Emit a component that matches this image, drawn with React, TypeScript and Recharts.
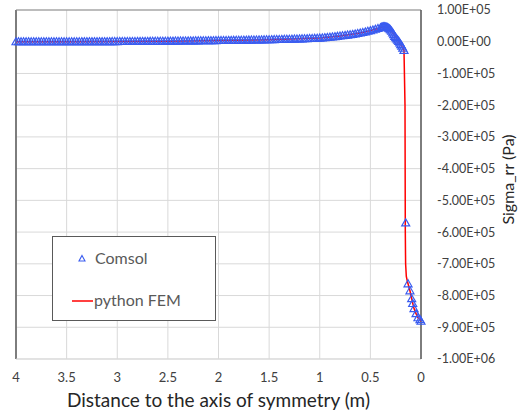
import { ScatterChart, Scatter, XAxis, YAxis, CartesianGrid, ReferenceLine, Legend, Label } from 'recharts';

const font = 'Lato, "Open Sans", sans-serif';

// Comsol results (distance in m, sigma_rr in Pa)
const comsolX = [
  4, 3.975, 3.95, 3.925, 3.9, 3.875, 3.85, 3.825,
  3.8, 3.775, 3.75, 3.725, 3.7, 3.675, 3.65, 3.625,
  3.6, 3.575, 3.55, 3.525, 3.5, 3.475, 3.45, 3.425,
  3.4, 3.375, 3.35, 3.325, 3.3, 3.275, 3.25, 3.225,
  3.2, 3.175, 3.15, 3.125, 3.1, 3.075, 3.05, 3.025,
  3, 2.975, 2.95, 2.925, 2.9, 2.875, 2.85, 2.825,
  2.8, 2.775, 2.75, 2.725, 2.7, 2.675, 2.65, 2.625,
  2.6, 2.575, 2.55, 2.525, 2.5, 2.475, 2.45, 2.425,
  2.4, 2.375, 2.35, 2.325, 2.3, 2.275, 2.25, 2.225,
  2.2, 2.175, 2.15, 2.125, 2.1, 2.075, 2.05, 2.025,
  2, 1.975, 1.95, 1.925, 1.9, 1.875, 1.85, 1.825,
  1.8, 1.775, 1.75, 1.725, 1.7, 1.675, 1.65, 1.625,
  1.6, 1.575, 1.55, 1.525, 1.5, 1.475, 1.45, 1.425,
  1.4, 1.375, 1.35, 1.325, 1.3, 1.275, 1.25, 1.225,
  1.2, 1.175, 1.15, 1.125, 1.1, 1.075, 1.05, 1.025,
  1, 0.975, 0.95, 0.925, 0.9, 0.875, 0.85, 0.825,
  0.8, 0.775, 0.75, 0.725, 0.7, 0.675, 0.65, 0.625,
  0.6, 0.575, 0.55, 0.525, 0.5, 0.475, 0.45, 0.425,
  0.4, 0.39, 0.38, 0.37, 0.36, 0.35, 0.34, 0.33, 0.32, 0.31, 0.3, 0.29,
  0.28, 0.27, 0.26, 0.25, 0.24, 0.23, 0.22, 0.21, 0.2, 0.19, 0.18, 0.168,
  0.151, 0.128, 0.109, 0.092, 0.082, 0.069, 0.049, 0.03, 0.01, 0,
];
const comsolY = [
  0, 0, 0, 0, 0, 0, 0, 0,
  0, 0, 0, 0, 0, 0, 0, 0,
  0, 0, 0, 0, 0, 0, 50, 100,
  100, 150, 200, 200, 200, 250, 300, 300,
  300, 350, 400, 400, 400, 450, 500, 550,
  600, 650, 700, 750, 800, 850, 900, 950,
  1000, 1050, 1100, 1150, 1200, 1250, 1300, 1400,
  1500, 1550, 1600, 1700, 1800, 1900, 2000, 2100,
  2200, 2300, 2400, 2500, 2600, 2700, 2800, 2900,
  3000, 3100, 3200, 3300, 3400, 3500, 3600, 3700,
  3800, 3900, 4000, 4100, 4200, 4300, 4400, 4550,
  4700, 4800, 4900, 5050, 5200, 5350, 5500, 5650,
  5800, 5950, 6100, 6250, 6400, 6600, 6800, 7000,
  7200, 7400, 7600, 7800, 8000, 8250, 8500, 8750,
  9000, 9250, 9500, 9800, 10100, 10400, 10700, 11100,
  11500, 12200, 13000, 13700, 14500, 15200, 16000, 17000,
  18000, 19000, 20000, 21000, 22000, 23200, 24500, 26000,
  27500, 29200, 31000, 33000, 35000, 37200, 39500, 41800,
  44000, 45500, 46500, 47000, 47000, 46800, 46000, 44800, 43000, 40500, 37000, 33000,
  28000, 22500, 17000, 13000, 9000, 5000, 1000, -4000, -9000, -14000, -20000, -27000,
  -571000, -763000, -785000, -810000, -825000, -841000, -857000, -870000, -876000, -881000,
];

// python FEM results
const femX = [
  4, 3.5, 3, 2.5, 2, 1.5, 1, 0.8, 0.6, 0.5, 0.45, 0.4, 0.36, 0.32, 0.28, 0.24, 0.2, 0.168,
  0.158, 0.155, 0.152, 0.145, 0.135, 0.128, 0.109, 0.092, 0.069, 0.049, 0.03, 0.01, 0,
];
const femY = [
  0, 0, 600, 1800, 3800, 6400, 11500, 18000, 27500, 35000, 39500, 44000, 47000, 43000, 28000, 9000, -9000, -27000,
  -200000, -600000, -700000, -740000, -755000, -763000, -785000, -810000, -841000, -857000, -870000, -876000, -881000,
];

const xTicks = [0, 0.5, 1, 1.5, 2, 2.5, 3, 3.5, 4];
const yTicks = [100000, 0, -100000, -200000, -300000, -400000, -500000, -600000, -700000, -800000, -900000, -1000000];

const comsolData = comsolX.map((x, i) => ({ x, y: comsolY[i] }));
const femData = femX.map((x, i) => ({ x, y: femY[i] }));

const fmtSci = (v: number) => {
  const [m, e] = v.toExponential(2).split('e');
  const sign = e[0] === '-' ? '-' : '+';
  const d = e.replace(/[+-]/, '').padStart(2, '0');
  return `${m}E${sign}${d}`;
};

const Triangle = (props: any) => {
  const { cx, cy } = props;
  if (cx == null || cy == null) return <g />;
  return (
    <path
      d={`M${cx},${cy - 4}L${cx + 4},${cy + 3}L${cx - 4},${cy + 3}Z`}
      fill="none"
      stroke="#3a5cf0"
      strokeWidth={1.2}
    />
  );
};

const yTitle = ({ viewBox }: any) => {
  const cx = viewBox.x + viewBox.width - 11;
  const cy = viewBox.y + viewBox.height / 2 - 5;
  return (
    <text
      x={cx}
      y={cy}
      transform={`rotate(-90, ${cx}, ${cy})`}
      textAnchor="middle"
      dominantBaseline="central"
      fill="#262626"
      fontSize={16}
      fontFamily={font}
    >
      Sigma_rr (Pa)
    </text>
  );
};

const legendContent = () => (
  <div
    style={{
      width: 162,
      height: 83,
      border: '1px solid #595959',
      background: '#fff',
      fontFamily: font,
      fontSize: 16,
      color: '#595959',
      position: 'relative',
    }}
  >
    <svg width={20} height={10} style={{ position: 'absolute', left: 19, top: 17 }}>
      <path d="M10,1.5L13,7L7,7Z" fill="none" stroke="#3a5cf0" strokeWidth={1.1} />
    </svg>
    <span style={{ position: 'absolute', left: 42, top: 11 }}>Comsol</span>
    <svg width={22} height={4} style={{ position: 'absolute', left: 19, top: 62 }}>
      <line x1={0} y1={2} x2={21} y2={2} stroke="#ff0000" strokeWidth={1.5} />
    </svg>
    <span style={{ position: 'absolute', left: 41, top: 53 }}>python FEM</span>
  </div>
);

const App = () => {
  return (
    <div style={{ position: 'absolute', left: 0, top: 0 }}>
      <ScatterChart width={518} height={415} margin={{ top: 10, right: 0, bottom: 0, left: 16 }}>
        <CartesianGrid stroke="#d9d9d9" />
        <XAxis
          dataKey="x"
          type="number"
          domain={[0, 4]}
          ticks={xTicks}
          reversed
          height={56}
          tickSize={0}
          tickMargin={14}
          tickLine={false}
          axisLine={{ stroke: '#d9d9d9' }}
          tick={{ fill: '#404040', fontSize: 13, fontFamily: font }}
        >
          <Label
            value="Distance to the axis of symmetry (m)"
            position="insideBottom"
            offset={8}
            style={{ fill: '#262626', fontSize: 19, fontFamily: font }}
          />
        </XAxis>
        <YAxis
          dataKey="y"
          type="number"
          orientation="right"
          domain={[-1000000, 100000]}
          ticks={yTicks}
          width={97}
          tickSize={0}
          tickMargin={16}
          tickLine={false}
          axisLine={{ stroke: '#595959', strokeWidth: 1.5 }}
          tickFormatter={fmtSci}
          tick={{ fill: '#404040', fontSize: 12.5, fontFamily: font, textAnchor: 'start' }}
        >
          <Label content={yTitle} />
        </YAxis>
        <ReferenceLine x={4} stroke="#595959" strokeWidth={1.5} />
        <ReferenceLine y={100000} stroke="#8c8c8c" />
        <Legend
          content={legendContent}
          layout="horizontal"
          verticalAlign="middle"
          align="center"
          wrapperStyle={{ left: 52, top: 236, width: 164, height: 85 }}
        />
        <Scatter name="python FEM" data={femData} line={{ stroke: '#ff0000', strokeWidth: 1.5 }} shape={() => <g />} isAnimationActive={false} />
        <Scatter name="Comsol" data={comsolData} shape={Triangle} isAnimationActive={false} />
      </ScatterChart>
    </div>
  );
};

export default App;
